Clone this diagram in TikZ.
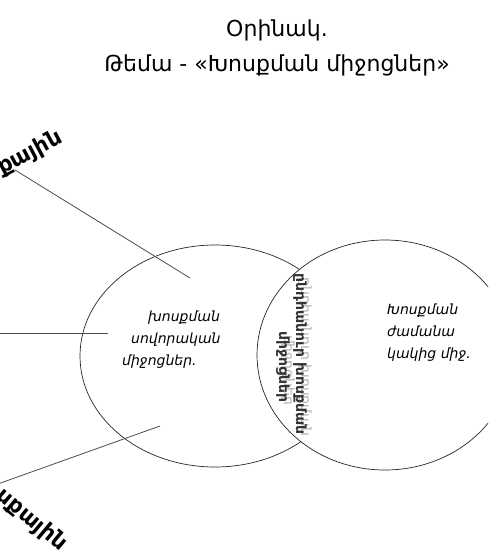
\documentclass[tikz,border=0pt]{standalone}
\usepackage{fontspec}
\setmainfont{DejaVu Sans}
\usetikzlibrary{shapes.geometric}
\begin{document}
\begin{tikzpicture}[x=1pt,y=-1pt,
  titletext/.style={font=\fontsize{22}{35}\selectfont, align=center, inner sep=0pt},
  circtext/.style={font=\fontsize{14}{22}\selectfont\itshape, align=left, inner sep=0pt, anchor=north west},
  sidetext/.style={font=\fontsize{22}{26}\selectfont\bfseries, inner sep=0pt, anchor=base east},
  midtext/.style={font=\fontsize{14}{16}\selectfont\bfseries, inner sep=0pt, rotate=-90, text=black!80},
  midghost/.style={font=\fontsize{14}{16}\selectfont, inner sep=0pt, rotate=-90, text=black!30},
  oval/.style={ellipse, draw=black!85, line width=0.7pt, inner sep=0pt},
  conn/.style={draw=black!70, line width=0.8pt}]
\useasboundingbox (0,0) rectangle (488,560);
\clip (0,0) rectangle (488,560);

\node[titletext] (title) at (277,48) {Օրինակ.\\Թեմա - «Խոսքման միջոցներ»};

\node[oval, minimum width=270pt, minimum height=222pt] (L) at (215,356) {};

\coordinate (tStart) at (15,170);
\coordinate (tEnd) at (190,278);
\coordinate (mStart) at (-5,333);
\coordinate (mEnd) at (108,333);
\coordinate (bStart) at (-5,485);
\coordinate (bEnd) at (160,426);

\node[sidetext, rotate=28] (topL) at (64,142) {Խոսքային};
\node[sidetext, rotate=-40] (botL) at (60,552) {Ոչ խոսքային};

\draw[conn] (tStart) -- (tEnd);
\draw[conn] (mStart) -- (mEnd);
\draw[conn] (bStart) -- (bEnd);

\node[circtext] (Ltxt) at (122,311) {\hspace*{26pt}խոսքման\\\hspace*{9pt}սովորական\\միջոցներ.};

\node[oval, fill=white, minimum width=256pt, minimum height=230pt] (R) at (385,355) {};

\node[circtext] (Rtxt) at (387,304) {Խոսքման\\ժամանա\\կակից միջ.};

\node[midghost] (c1g) at (305,357) {ընդհանուր խոսքման};
\node[midghost] (c2g) at (288,370) {միջոցներ};
\node[midtext] (c1) at (300,354) {ընդհանուր խոսքման};
\node[midtext] (c2) at (283,367) {միջոցներ};
\end{tikzpicture}
\end{document}
